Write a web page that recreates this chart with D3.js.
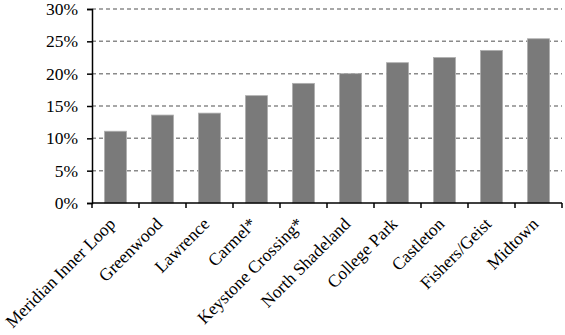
<!DOCTYPE html>
<html>
<head>
<meta charset="utf-8">
<script src="https://cdn.jsdelivr.net/npm/d3@7"></script>
<style>
  body { margin: 0; background: #fff; }
  text { font-family: "Liberation Serif", "Times New Roman", serif; }
</style>
</head>
<body>
<div id="output"></div>
<script>
var areas = ['Meridian Inner Loop', 'Greenwood', 'Lawrence', 'Carmel*', 'Keystone Crossing*',
  'North Shadeland', 'College Park', 'Castleton', 'Fishers/Geist', 'Midtown'];
var shares = [11.1, 13.6, 13.9, 16.6, 18.5, 20.0, 21.7, 22.5, 23.6, 25.4];
var yTicks = [0, 5, 10, 15, 20, 25, 30];

var width = 565;
var height = 335;
var plotLeft = 92, plotRight = 562, plotTop = 9, plotBottom = 203;

var svg = d3.select('#output')
  .append('svg')
  .attr('width', width)
  .attr('height', height);

var xScale = d3.scaleBand()
  .domain(areas)
  .range([plotLeft, plotRight])
  .paddingInner(0.53)
  .paddingOuter(0.265);

var yScale = d3.scaleLinear()
  .domain([0, 30])
  .range([plotBottom, plotTop]);

// gridlines
svg.append('g')
  .selectAll('line')
  .data(yTicks.filter((d) => d > 0))
  .enter()
  .append('line')
  .attr('x1', plotLeft)
  .attr('x2', plotRight)
  .attr('y1', (d) => yScale(d))
  .attr('y2', (d) => yScale(d))
  .attr('stroke', '#8a8a8a')
  .attr('stroke-width', 1.5)
  .attr('stroke-dasharray', '4,3');

// bars
svg.append('g')
  .selectAll('rect')
  .data(shares)
  .enter()
  .append('rect')
  .attr('x', (_, i) => xScale(areas[i]))
  .attr('y', (d) => yScale(d))
  .attr('width', xScale.bandwidth())
  .attr('height', (d) => plotBottom - yScale(d))
  .attr('fill', '#7a7a7a')
  .attr('stroke', '#b0b0b0')
  .attr('stroke-width', 0.8);

// y axis
var yAxis = d3.axisLeft(yScale)
  .tickValues(yTicks)
  .tickSize(5)
  .tickPadding(9)
  .tickFormat((d) => d + '%');

var gy = svg.append('g')
  .attr('transform', `translate(${plotLeft}, 0)`)
  .call(yAxis);
gy.selectAll('text').attr('font-size', 17.5).attr('fill', '#000')
  .attr('font-family', '"Liberation Serif", serif');
gy.selectAll('line, path').attr('stroke', '#000').attr('stroke-width', 1.5);

// x axis: ticks at band boundaries
var gx = svg.append('g');
gx.append('line')
  .attr('x1', plotLeft).attr('x2', plotRight)
  .attr('y1', plotBottom).attr('y2', plotBottom)
  .attr('stroke', '#000').attr('stroke-width', 1.5);

var step = xScale.step();
var bounds = d3.range(areas.length + 1).map((i) => plotLeft + i * step);
gx.selectAll('line.tick')
  .data(bounds)
  .enter()
  .append('line')
  .attr('class', 'tick')
  .attr('x1', (d) => d).attr('x2', (d) => d)
  .attr('y1', plotBottom).attr('y2', plotBottom + 5)
  .attr('stroke', '#000').attr('stroke-width', 1.5);

gx.selectAll('text')
  .data(areas)
  .enter()
  .append('text')
  .attr('transform', (d) => `translate(${xScale(d) + xScale.bandwidth() / 2 + 1}, 225) rotate(-45)`)
  .attr('text-anchor', 'end')
  .attr('font-size', 17.5)
  .attr('fill', '#000')
  .text((d) => d);
</script>
</body>
</html>
